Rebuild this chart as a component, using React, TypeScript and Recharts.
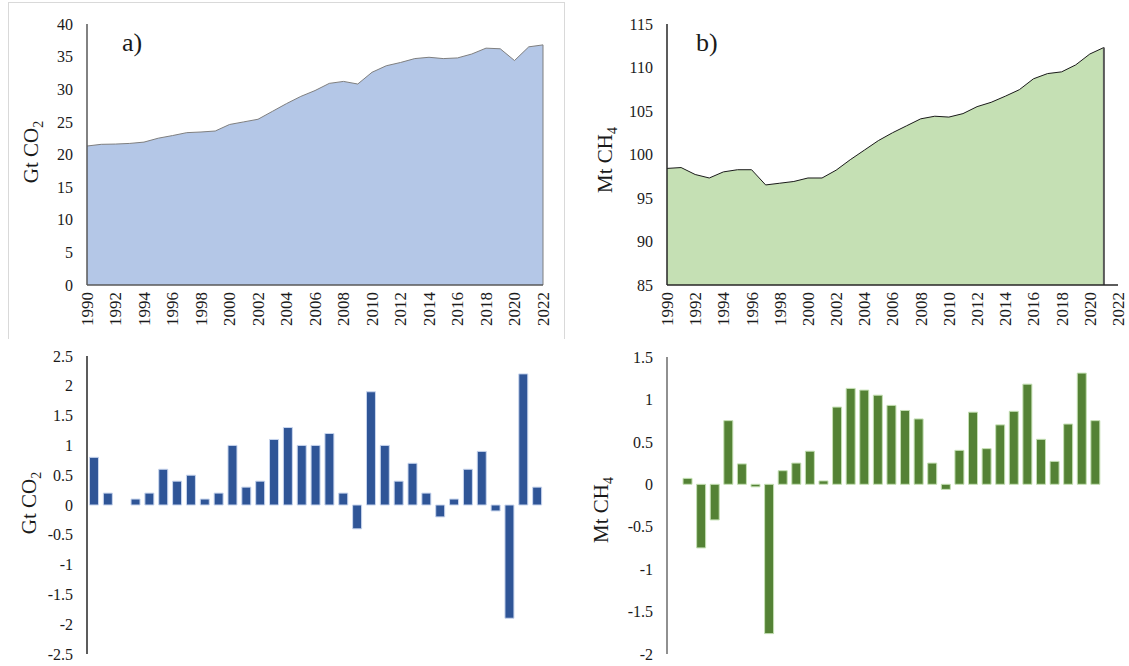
import {
  AreaChart, Area, BarChart, Bar, XAxis, YAxis, ReferenceLine,
} from 'recharts'

const YEARS = Array.from({ length: 33 }, (_, i) => String(1990 + i))

// Global CO2 emissions, Gt
const co2Totals = [
  21.3, 21.56, 21.6, 21.7, 21.9, 22.5, 22.9, 23.35, 23.45, 23.6,
  24.6, 25.0, 25.4, 26.6, 27.8, 28.9, 29.8, 30.9, 31.2, 30.8,
  32.6, 33.6, 34.1, 34.7, 34.9, 34.7, 34.8, 35.4, 36.3, 36.2,
  34.4, 36.5, 36.8,
]

// Methane, Mt (no 2022 value)
const ch4Totals = [
  98.4, 98.5, 97.7, 97.3, 98.0, 98.25, 98.25, 96.5, 96.7, 96.9,
  97.3, 97.3, 98.2, 99.4, 100.5, 101.6, 102.5, 103.3, 104.1, 104.4,
  104.3, 104.7, 105.5, 106.0, 106.7, 107.45, 108.7, 109.3, 109.5, 110.3,
  111.55, 112.3, null,
]

// yearly changes
const co2Changes = [
  0.8, 0.2, 0, 0.1, 0.2, 0.6, 0.4, 0.5, 0.1, 0.2,
  1.0, 0.3, 0.4, 1.1, 1.3, 1.0, 1.0, 1.2, 0.2, -0.4,
  1.9, 1.0, 0.4, 0.7, 0.2, -0.2, 0.1, 0.6, 0.9, -0.1,
  -1.9, 2.2, 0.3,
]

const ch4Changes = [
  null, 0.07, -0.75, -0.42, 0.75, 0.24, -0.03, -1.76, 0.16, 0.25,
  0.39, 0.04, 0.91, 1.13, 1.11, 1.05, 0.93, 0.87, 0.77, 0.25,
  -0.06, 0.40, 0.85, 0.42, 0.70, 0.86, 1.18, 0.53, 0.27, 0.71,
  1.31, 0.75,
]

const co2TotalTicks = [0, 5, 10, 15, 20, 25, 30, 35, 40]
const ch4TotalTicks = [85, 90, 95, 100, 105, 110, 115]
const co2ChangeTicks = [-2.5, -2, -1.5, -1, -0.5, 0, 0.5, 1, 1.5, 2, 2.5]
const ch4ChangeTicks = [-2, -1.5, -1, -0.5, 0, 0.5, 1, 1.5]

const FONT = '"Liberation Serif", "Times New Roman", serif'
const TEXT = '#1a1a1a'
const AXIS = '#595959'

const co2Data = YEARS.map((year, i) => ({ year, value: co2Totals[i] }))
const ch4Data = YEARS.map((year, i) => ({ year, value: ch4Totals[i] }))
const co2BarData = YEARS.map((year, i) => ({ year, value: co2Changes[i] }))
const ch4BarData = YEARS.slice(0, 32).map((year, i) => ({ year, value: ch4Changes[i] }))

const tickStyle = { fontSize: 16, fontFamily: FONT, fill: TEXT }

const YearTick = (props: any) => {
  const { x, y, payload } = props
  return (
    <text
      transform={`translate(${x},${y}) rotate(-90)`}
      textAnchor="end"
      dy="0.35em"
      fontSize={17}
      fontFamily={FONT}
      fill={TEXT}
    >
      {payload.value}
    </text>
  )
}

// rotated axis title with a subscript, e.g. Gt CO2
const axisTitle = (main: string, sub: string, cx: number, cy: number) => () => (
  <text
    transform={`translate(${cx},${cy}) rotate(-90)`}
    textAnchor="middle"
    fontSize={21}
    fontFamily={FONT}
    fill={TEXT}
  >
    {main}
    <tspan fontSize={14} dy={5}>{sub}</tspan>
  </text>
)

const panelLetter = (left: number): React.CSSProperties => ({
  position: 'absolute', left, top: 30, fontSize: 26, lineHeight: '26px',
  fontFamily: FONT, color: TEXT,
})

export default function App() {
  return (
    <div style={{ position: 'absolute', left: 0, top: 0, width: 1129, height: 666, background: '#fff', overflow: 'hidden' }}>
      {/* light chart-area frame of panel a */}
      <div style={{
        position: 'absolute', left: 8, top: 2, width: 555, height: 336,
        borderLeft: '1px solid #d9d9d9', borderTop: '1px solid #d9d9d9', borderRight: '1px solid #d9d9d9',
      }} />

      <div style={{ position: 'absolute', left: 0, top: 0 }}>
        <AreaChart width={560} height={340} data={co2Data} margin={{ top: 24, right: 17, left: 0, bottom: 5 }}>
          <XAxis
            dataKey="year"
            interval={1}
            tick={<YearTick />}
            tickLine={false}
            tickSize={0}
            tickMargin={7}
            height={50}
            axisLine={{ stroke: AXIS, strokeWidth: 1.5 }}
          />
          <YAxis
            width={87}
            domain={[0, 40]}
            ticks={co2TotalTicks}
            interval={0}
            tick={tickStyle}
            tickLine={false}
            tickSize={0}
            tickMargin={14}
            axisLine={{ stroke: AXIS, strokeWidth: 1.5 }}
            label={axisTitle('Gt CO', '2', 38, 152)}
          />
          <Area
            type="linear"
            dataKey="value"
            stroke="#7f7f7f"
            strokeWidth={1}
            fill="#b4c7e7"
            fillOpacity={1}
            isAnimationActive={false}
          />
          <ReferenceLine
            segment={[{ x: '2022', y: 0 }, { x: '2022', y: co2Totals[32] }]}
            stroke="#7f7f7f"
            strokeWidth={1}
          />
        </AreaChart>
      </div>

      <div style={{ position: 'absolute', left: 570, top: 0 }}>
        <AreaChart width={559} height={340} data={ch4Data} margin={{ top: 24, right: 11, left: 0, bottom: 5 }}>
          <XAxis
            dataKey="year"
            interval={1}
            tick={<YearTick />}
            tickLine={false}
            tickSize={0}
            tickMargin={7}
            height={50}
            axisLine={{ stroke: '#262626', strokeWidth: 1.5 }}
          />
          <YAxis
            width={97}
            domain={[85, 115]}
            ticks={ch4TotalTicks}
            interval={0}
            tick={tickStyle}
            tickLine={false}
            tickSize={0}
            tickMargin={14}
            axisLine={{ stroke: '#262626', strokeWidth: 1.5 }}
            label={axisTitle('Mt CH', '4', 42, 160)}
          />
          <Area
            type="linear"
            dataKey="value"
            stroke="#1a1a1a"
            strokeWidth={1}
            fill="#c5e0b4"
            fillOpacity={1}
            isAnimationActive={false}
          />
          <ReferenceLine
            segment={[{ x: '2021', y: 85 }, { x: '2021', y: ch4Totals[31] as number }]}
            stroke={AXIS}
            strokeWidth={2}
          />
        </AreaChart>
      </div>

      <div style={{ position: 'absolute', left: 0, top: 340 }}>
        <BarChart width={560} height={326} data={co2BarData} margin={{ top: 16, right: 16, left: 0, bottom: 12 }} barCategoryGap="18%">
          <XAxis dataKey="year" hide />
          <YAxis
            width={87}
            domain={[-2.5, 2.5]}
            ticks={co2ChangeTicks}
            interval={0}
            tick={tickStyle}
            tickLine={false}
            tickSize={0}
            tickMargin={14}
            axisLine={{ stroke: '#262626', strokeWidth: 1.5 }}
            label={axisTitle('Gt CO', '2', 36, 163)}
          />
          <Bar dataKey="value" fill="#2f5597" stroke="#c9d6ee" strokeWidth={1} isAnimationActive={false} />
        </BarChart>
      </div>

      <div style={{ position: 'absolute', left: 570, top: 340 }}>
        <BarChart width={559} height={326} data={ch4BarData} margin={{ top: 17, right: 27, left: 0, bottom: 12 }} barCategoryGap="18%">
          <XAxis dataKey="year" hide />
          <YAxis
            width={97}
            domain={[-2, 1.5]}
            ticks={ch4ChangeTicks}
            interval={0}
            tick={tickStyle}
            tickLine={false}
            tickSize={0}
            tickMargin={14}
            axisLine={{ stroke: '#6b6b6b', strokeWidth: 1.5 }}
            label={axisTitle('Mt CH', '4', 38, 170)}
          />
          <Bar dataKey="value" fill="#548235" stroke="#c5e0b4" strokeWidth={1} isAnimationActive={false} />
        </BarChart>
      </div>

      <div style={panelLetter(122)}>a)</div>
      <div style={panelLetter(696)}>b)</div>
    </div>
  )
}
